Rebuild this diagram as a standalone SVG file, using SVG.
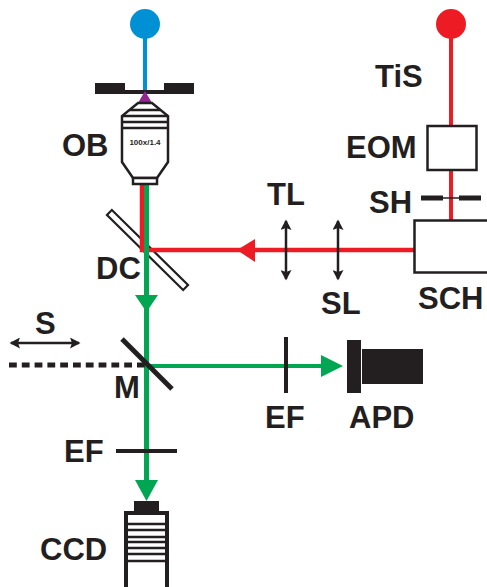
<svg xmlns="http://www.w3.org/2000/svg" width="487" height="587" viewBox="0 0 487 587">
<defs>
<marker id="dbl" markerWidth="11" markerHeight="11" refX="9" refY="5.500" orient="auto-start-reverse" markerUnits="userSpaceOnUse"><path d="M0 0L10.500 5.500L0 11L2 5.500Z" fill="#231f20"/></marker>
</defs>
<style>
text{font-family:"Liberation Sans",Arial,sans-serif;font-weight:700;font-size:31px;fill:#231f20}
.k{stroke:#231f20;fill:none}
.w{stroke:#231f20;fill:#fff}
.b{fill:#231f20}
.red{stroke:#ed1c24;fill:none}
.grn{stroke:#00a651;fill:none}
</style>
<rect width="487" height="587" fill="#fff"/>
<g id="DC"><rect x="-53.500" y="-3.500" width="107" height="7" transform="translate(147.500 250) rotate(44.600)" fill="#fff" stroke="#231f20" stroke-width="2.200"/></g>
<g id="connectors">
<line x1="145" y1="24" x2="145" y2="91" stroke="#0090d4" stroke-width="4"/>
<line x1="451" y1="24" x2="451" y2="220" class="red" stroke-width="4"/>
<path d="M142 184V250H414" class="red" stroke-width="4.500"/>
<path d="M237 250L255 239V262Z" fill="#ed1c24"/>
<line x1="146.500" y1="184" x2="146.500" y2="490" class="grn" stroke-width="5"/>
<path d="M135 295H158L146.500 312Z" fill="#00a651"/>
<line x1="147" y1="366" x2="325" y2="366" class="grn" stroke-width="4"/>
<path d="M343 366L321 355V377Z" fill="#00a651"/>
<path d="M135 480H158L146.500 501Z" fill="#00a651"/>
<line x1="9" y1="365" x2="146" y2="365" stroke="#231f20" stroke-width="5" stroke-dasharray="7.800 5"/>
<line x1="11" y1="343" x2="79" y2="343" class="k" stroke-width="2.500" marker-start="url(#dbl)" marker-end="url(#dbl)"/>
<line x1="286" y1="221" x2="286" y2="279" class="k" stroke-width="2.500" marker-start="url(#dbl)" marker-end="url(#dbl)"/>
<line x1="338" y1="221" x2="338" y2="279" class="k" stroke-width="2.500" marker-start="url(#dbl)" marker-end="url(#dbl)"/>
</g>
<g id="blue-source"><circle cx="145" cy="24" r="15" fill="#0090d4"/></g>
<g id="red-source"><circle cx="451" cy="24" r="15" fill="#ed1c24"/></g>
<g id="slit"><path class="b" d="M95 83H125V90H164V83H194V94H95Z"/><path d="M145 91L152 103H138Z" fill="#92278f"/></g>
<g id="OB">
<path class="w" stroke-width="2.500" d="M138 103H152L168 116V162L157 178H133L122 162V116Z"/>
<rect class="w" stroke-width="2.500" x="133" y="178" width="24" height="6"/>
<path class="k" stroke-width="2.500" d="M130 110H160M122 116H168M122 122H168M122 128H168"/>
<text x="145" y="145" text-anchor="middle" style="font-size:8px">100x/1.4</text>
<text x="62" y="156">OB</text>
</g>
<g id="EOM"><rect class="w" stroke-width="2.500" x="427.500" y="126" width="49" height="44"/><text x="346" y="158">EOM</text></g>
<g id="SH"><path class="k" stroke-width="5" d="M421 198H443M459 198H481"/><path class="k" stroke-width="1.500" d="M443 198H459"/><text x="369" y="213">SH</text></g>
<g id="SCH"><rect class="w" stroke-width="2.500" x="414.500" y="220.500" width="80" height="52"/><text x="418" y="309">SCH</text></g>
<g id="TiS"><text x="375" y="87">TiS</text></g>
<g id="TL"><text x="267" y="205">TL</text></g>
<g id="SL"><text x="321" y="314">SL</text></g>
<g id="DC-label"><text x="96" y="279">DC</text></g>
<g id="S"><text x="35" y="334">S</text></g>
<g id="M"><line x1="122" y1="339" x2="172" y2="389" stroke="#231f20" stroke-width="5"/><text x="114" y="398">M</text></g>
<g id="EF1"><line x1="286" y1="337" x2="286" y2="393" stroke="#231f20" stroke-width="4"/><text x="265" y="428">EF</text></g>
<g id="APD"><rect class="b" x="347" y="340" width="14" height="53"/><rect class="b" x="362" y="349" width="61" height="35"/><text x="349" y="428">APD</text></g>
<g id="EF2"><line x1="116" y1="451" x2="177" y2="451" stroke="#231f20" stroke-width="4"/><text x="64" y="462">EF</text></g>
<g id="CCD">
<rect class="b" x="134" y="501" width="25" height="11"/>
<rect class="w" stroke-width="4" x="126" y="513" width="41" height="76"/>
<path class="k" stroke-width="2.500" d="M126 524H167M126 530H167M126 537H167M126 542H167M126 548H167M126 554H167M126 561H167"/>
<text x="40" y="560">CCD</text>
</g>
</svg>
